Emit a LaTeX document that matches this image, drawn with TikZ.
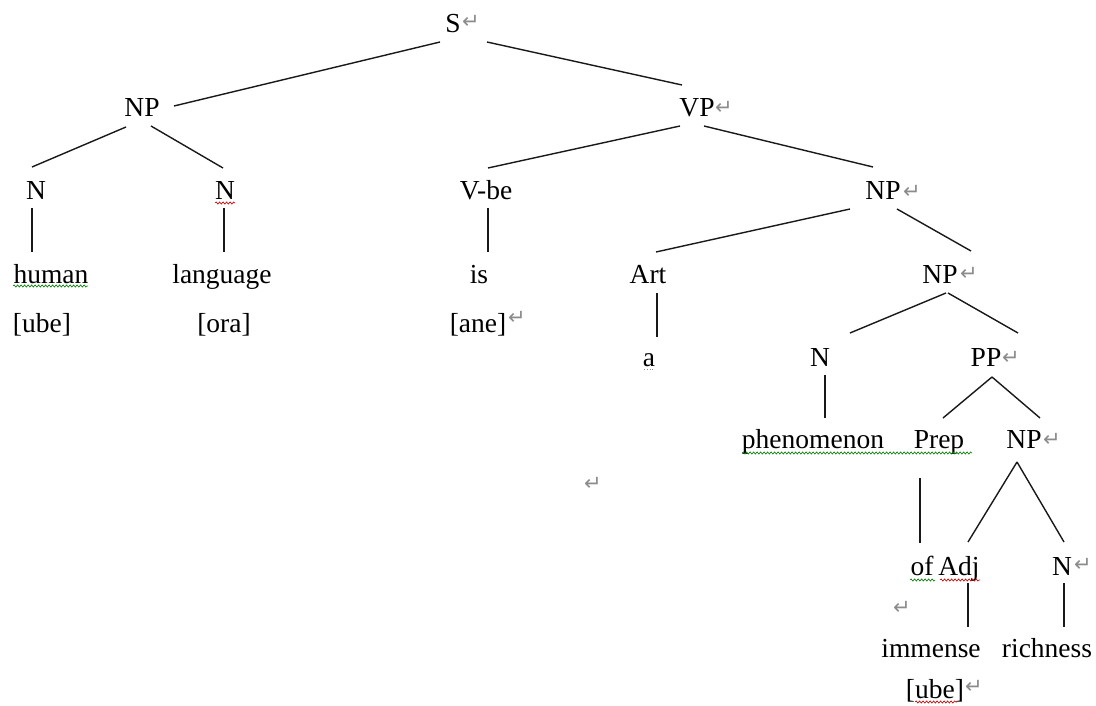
\documentclass[tikz,border=0pt]{standalone}
\usepackage{fontspec}
\setmainfont{Liberation Serif}
\newfontfamily\markfont{DejaVu Sans}
\usetikzlibrary{calc,decorations.pathmorphing}

\tikzset{
  lbl/.style={anchor=base, inner sep=0pt, font=\fontsize{27.5}{30}\selectfont},
  branch/.style={line width=1.4pt, draw=black!90},
  pmark/.style={inner sep=0pt, text=black!45, font=\markfont\fontsize{21}{21}\selectfont},
  spellsq/.style={draw=red!80!black, line width=0.6pt, decorate,
    decoration={snake, amplitude=1.1pt, segment length=3.5pt}},
  grammarsq/.style={spellsq, draw=green!50!black},
}
% branch from node #1 (offset #2 from its baseline point) to node #3 (offset #4)
\newcommand\branchline[4]{\draw[branch] ($(#1.base)+(#2)$) -- ($(#3.base)+(#4)$);}

\begin{document}
\begin{tikzpicture}[x=1pt,y=-1pt]
\useasboundingbox[fill=white] (0,0) rectangle (1096,706);

% ---- labels ----
\node[lbl] (S)     at (453,33)  {S};
\node[lbl] (NPa)   at (142,117) {NP};
\node[lbl] (VP)    at (697,117) {VP};
\node[lbl] (Na)    at (36,200)  {N};
\node[lbl] (Nb)    at (225,200) {N};
\node[lbl] (Vbe)   at (486,200) {V-be};
\node[lbl] (NPb)   at (883,200) {NP};
\node[lbl] (human) at (51,283)  {human};
\node[lbl] (lang)  at (222,283) {language};
\node[lbl] (is)    at (479,283) {is};
\node[lbl] (Art)   at (648,283) {Art};
\node[lbl] (NPc)   at (940,283) {NP};
\node[lbl] (ubeA)  at (42,332)  {[ube]};
\node[lbl] (ora)   at (224,332) {[ora]};
\node[lbl] (ane)   at (478,332) {[ane]};
\node[lbl] (a)     at (649,366) {a};
\node[lbl] (Nc)    at (820,366) {N};
\node[lbl] (PP)    at (986,366) {PP};
\node[lbl] (phen)  at (813,448) {phenomenon};
\node[lbl] (Prep)  at (939,448) {Prep};
\node[lbl] (NPd)   at (1024,448){NP};
\node[lbl] (of)    at (922,575) {of};
\node[lbl] (Adj)   at (959,575) {Adj};
\node[lbl] (Nd)    at (1062,575){N};
\node[lbl] (imm)   at (931,657) {immense};
\node[lbl] (rich)  at (1047,657){richness};
\node[lbl] (ubeB)  at (935,698) {[ube]};

% ---- branches ----
\branchline{S}{-13,9}{NPa}{32,-11}
\branchline{S}{34,9}{VP}{-15,-32}
\branchline{NPa}{-16,10}{Na}{-4,-33}
\branchline{NPa}{9,9}{Nb}{-2,-32}
\branchline{VP}{-17,9}{Vbe}{2,-32}
\branchline{VP}{7,9}{NPb}{-10,-33}
\branchline{Na}{-4,8}{human}{-19,-31}
\branchline{Nb}{-1,8}{lang}{2,-31}
\branchline{Vbe}{2,8}{is}{9,-31}
\branchline{NPb}{-33,9}{Art}{8,-31}
\branchline{NPb}{14,9}{NPc}{31,-32}
\branchline{Art}{9,10}{a}{8,-29}
\branchline{NPc}{6,10}{Nc}{30,-33}
\branchline{NPc}{8,10}{PP}{32,-33}
\branchline{Nc}{5,9}{phen}{12,-30}
\branchline{PP}{6,11}{Prep}{4,-30}
\branchline{PP}{6,11}{NPd}{16,-30}
\branchline{Prep}{-19,30}{of}{-2,-32}
\branchline{NPd}{-7,14}{Adj}{9,-33}
\branchline{NPd}{-7,14}{Nd}{2,-33}
\branchline{Adj}{9,8}{imm}{37,-30}
\branchline{Nd}{2,8}{rich}{17,-30}

% ---- paragraph marks ----
\node[pmark] (pS)    at (471,22)  {↵};
\node[pmark] (pVP)   at (724,108) {↵};
\node[pmark] (pNPb)  at (912,192) {↵};
\node[pmark] (pane)  at (517,318) {↵};
\node[pmark] (pNPc)  at (969,274) {↵};
\node[pmark] (pPP)   at (1011,358){↵};
\node[pmark] (pNPd)  at (1052,440){↵};
\node[pmark] (pfree) at (593,484) {↵};
\node[pmark] (pNd)   at (1083,565){↵};
\node[pmark] (pof)   at (902,608) {↵};
\node[pmark] (pube)  at (974,687) {↵};

% ---- proofing underlines ----
\draw[grammarsq] (13,286) -- (88,286);
\draw[spellsq]   (215,203) -- (235,203);
\draw[grammarsq] (742,453) -- (972,453);
\draw[grammarsq] (910,580) -- (935,580);
\draw[spellsq]   (940,580) -- (980,580);
\draw[spellsq]   (915,702) -- (957,702);
\draw[black!45, line width=0.8pt, dotted] (644,369) -- (655,369);
\end{tikzpicture}
\end{document}
